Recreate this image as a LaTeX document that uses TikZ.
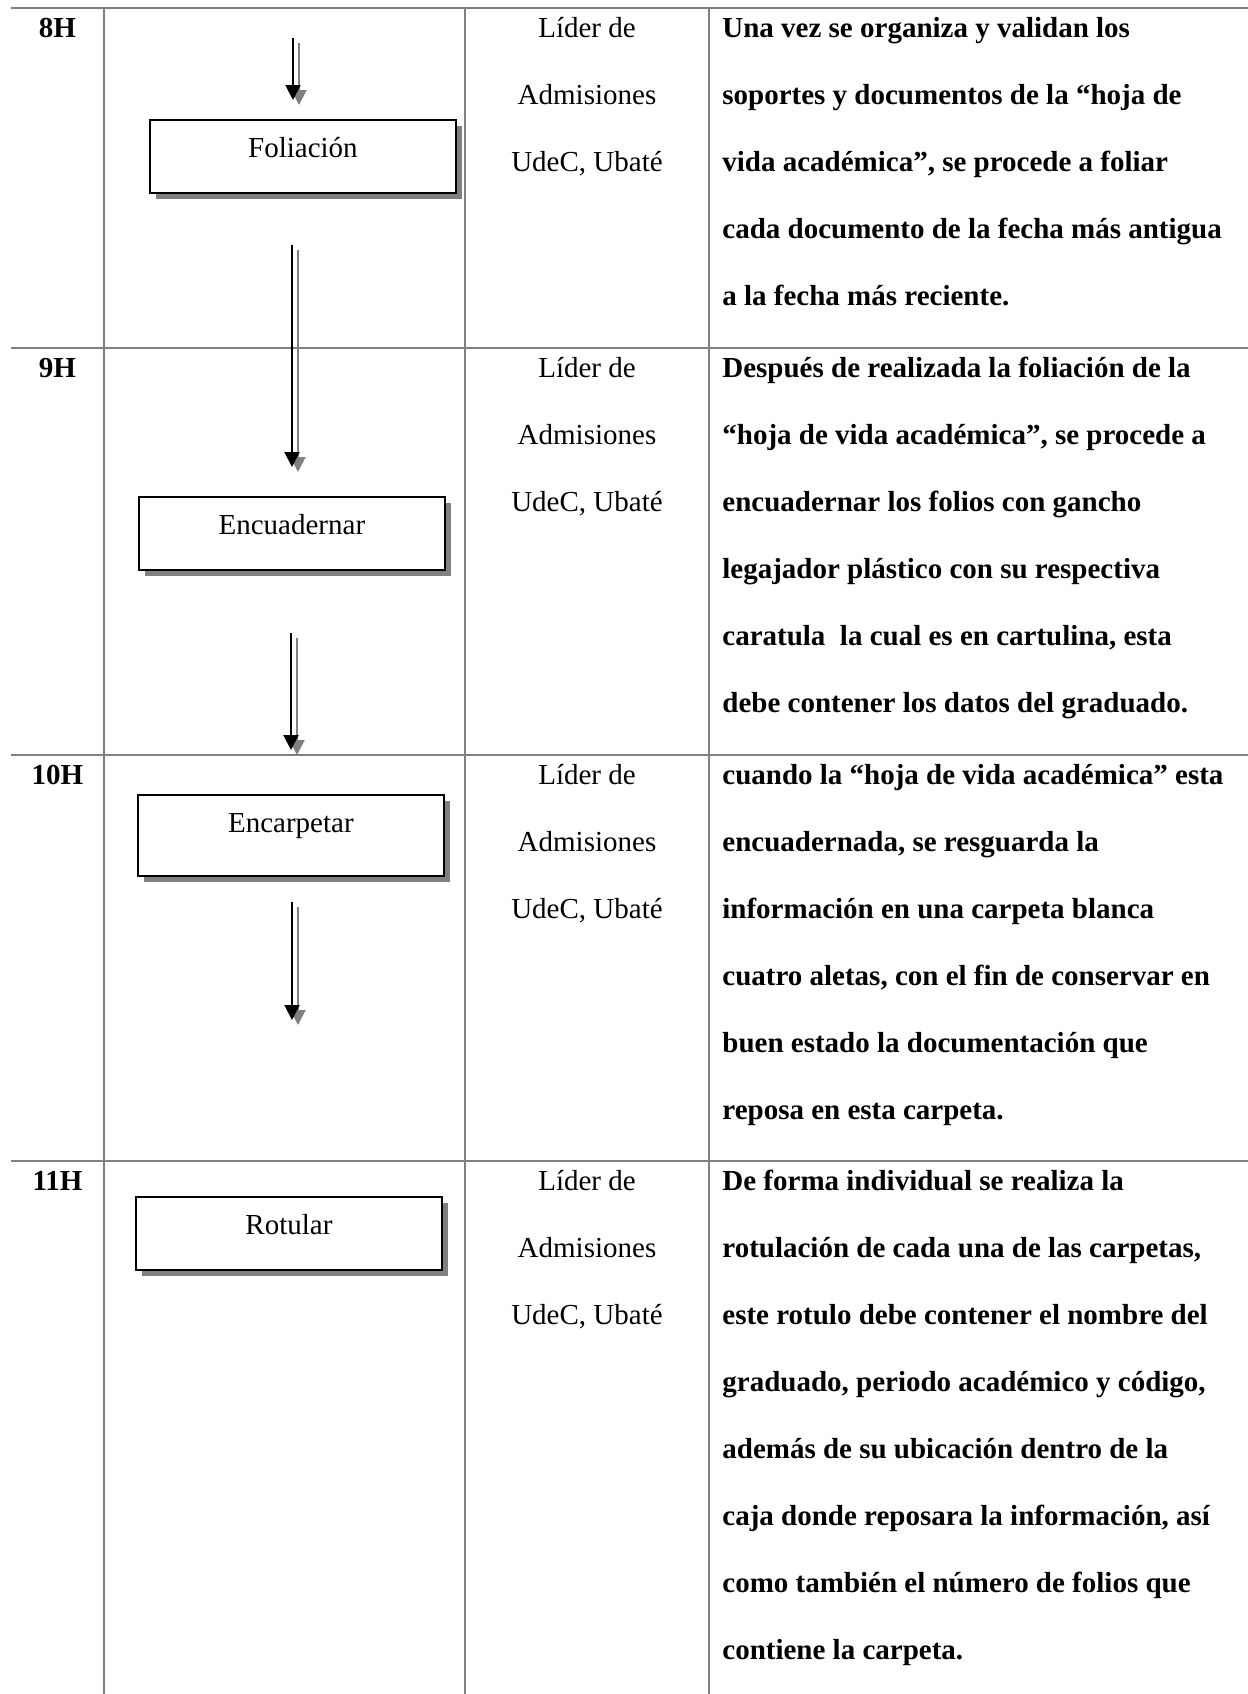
\documentclass[tikz,border=0pt]{standalone}
\usepackage{fontspec}
\setmainfont{Liberation Serif}
\usetikzlibrary{arrows.meta,calc,shadows}

\tikzset{
  gridline/.style={draw=gray,line width=1pt},
  stepbox/.style={draw,line width=0.9pt,fill=white,inner sep=0pt,anchor=north west,
    minimum width=153pt,text height=19pt,text depth=17.5pt,
    font=\fontsize{14.5}{17}\selectfont,
    drop shadow={shadow xshift=3pt,shadow yshift=-3pt,fill=gray,opacity=1}},
  flowarrow/.style={line width=1pt,-{Triangle[length=7.5pt,width=7.5pt]}},
  arrowshadow/.style={flowarrow,draw=gray,fill=gray},
  hourlabel/.style={anchor=base,inner sep=0pt,font=\fontsize{14.5}{17}\selectfont\bfseries},
  rolelabel/.style={anchor=base,inner sep=0pt,font=\fontsize{14.5}{17}\selectfont},
  bodytext/.style={anchor=base west,inner sep=0pt,font=\fontsize{14.5}{17}\selectfont\bfseries}
}

\begin{document}
\begin{tikzpicture}[x=0.5pt,y=-0.5pt]
 \useasboundingbox (0,0) rectangle (1248,1694);

 % table rules
 \foreach \y in {8,348,755,1161}
   \draw[gridline] (11,\y)--(1248,\y);
 \foreach \x in {104,465,709}
   \draw[gridline] (\x,8)--(\x,1694);

 % hours and who does it
 \foreach \y/\h in {8/8H,348/9H,755/10H,1161/11H}{
   \node[hourlabel] (hour\h) at (57.5,{\y+29}) {\h};
   \node[rolelabel] (lider\h) at (587,{\y+29}) {Líder de};
   \node[rolelabel] (adm\h) at (587,{\y+96}) {Admisiones};
   \node[rolelabel] (udec\h) at (587,{\y+163}) {UdeC, Ubaté};
 }

 % process steps
 \node[stepbox] (fol) at (149,119) {Foliación};
 \node[stepbox] (enc) at (138,496) {Encuadernar};
 \node[stepbox,text depth=21.5pt] (car) at (137,794) {Encarpetar};
 \node[stepbox] (rot) at (135,1196) {Rotular};

 % arrows with their shadow
 \foreach \n/\xa/\ya/\yb in {1/293/38/100,2/292/245/467,3/291/633/750,4/292/902/1020}{
   \coordinate (from\n) at (\xa,\ya);
   \coordinate (to\n) at (\xa,\yb);
   \draw[arrowshadow] ($(from\n)+(6,5)$)--($(to\n)+(6,5)$);
   \draw[flowarrow] (from\n)--(to\n);
 }

 % descriptions
 \foreach \t [count=\k from 0] in {Una vez se organiza y validan los,
     soportes y documentos de la “hoja de,
     {vida académica”, se procede a foliar},
     cada documento de la fecha más antigua,
     a la fecha más reciente.}
   \node[bodytext] (dA\k) at (722,{37+67*\k}) {\t};
 \foreach \t [count=\k from 0] in {Después de realizada la foliación de la,
     {“hoja de vida académica”, se procede a},
     encuadernar los folios con gancho,
     legajador plástico con su respectiva,
     {caratula\ \ la cual es en cartulina, esta},
     debe contener los datos del graduado.}
   \node[bodytext] (dB\k) at (722,{377+67*\k}) {\t};
 \foreach \t [count=\k from 0] in {cuando la “hoja de vida académica” esta,
     {encuadernada, se resguarda la},
     información en una carpeta blanca,
     {cuatro aletas, con el fin de conservar en},
     buen estado la documentación que,
     reposa en esta carpeta.}
   \node[bodytext] (dC\k) at (722,{784+67*\k}) {\t};
 \foreach \t [count=\k from 0] in {De forma individual se realiza la,
     {rotulación de cada una de las carpetas,},
     este rotulo debe contener el nombre del,
     {graduado, periodo académico y código,},
     además de su ubicación dentro de la,
     {caja donde reposara la información, así},
     como también el número de folios que,
     contiene la carpeta.}
   \node[bodytext] (dD\k) at (722,{1190+67*\k}) {\t};
\end{tikzpicture}
\end{document}
